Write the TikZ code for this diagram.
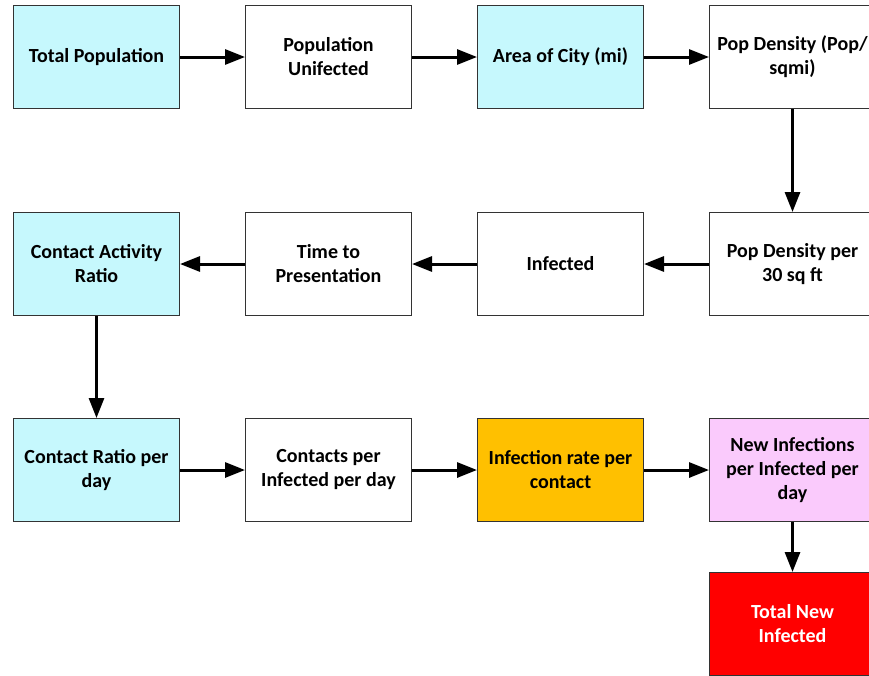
\documentclass[tikz,border=0pt]{standalone}
\usepackage{fontspec}
\setmainfont{Carlito}
\usetikzlibrary{arrows.meta}
\definecolor{cyanbox}{HTML}{C6F8FD}
\definecolor{orangebox}{HTML}{FFC000}
\definecolor{pinkbox}{HTML}{FACAFC}
\definecolor{redbox}{HTML}{FF0000}
\definecolor{edge}{HTML}{333333}
\tikzset{
  blk/.style={draw=edge, line width=1pt, fill=white, anchor=north west,
    minimum width=166pt, minimum height=103pt, inner sep=0pt,
    align=center, font=\fontsize{20}{24}\selectfont\bfseries},
  cyanblk/.style={blk, fill=cyanbox},
  flow/.style={line width=3pt, -{Triangle[length=20pt, width=15pt]}, shorten >=0pt}
}
\begin{document}
\begin{tikzpicture}[x=1pt, y=-1pt]
\useasboundingbox (0,0) rectangle (869,675);
\clip (0,0) rectangle (869,675);
% row 1
\node[cyanblk] (tp)  at (13,5)  {Total Population};
\node[blk]     (pu)  at (245,5) {Population\\Unifected};
\node[cyanblk] (ac)  at (477,5) {Area of City (mi)};
\node[blk]     (pd)  at (709,5) {Pop Density (Pop/\\sqmi)};
% row 2
\node[cyanblk] (car) at (13,212)  {Contact Activity\\Ratio};
\node[blk]     (ttp) at (245,212) {Time to\\Presentation};
\node[blk]     (inf) at (477,212) {Infected};
\node[blk]     (pd30) at (709,212) {Pop Density per\\30 sq ft};
% row 3
\node[cyanblk] (crd) at (13,418)  {Contact Ratio per\\day};
\node[blk]     (cpi) at (245,418) {Contacts per\\Infected per day};
\node[blk, fill=orangebox] (irc) at (477,418) {Infection rate per\\contact};
\node[blk, fill=pinkbox]   (nip) at (709,418) {New Infections\\per Infected per\\day};
% row 4
\node[blk, fill=redbox, text=white] (tni) at (709,572) {Total New\\Infected};
% connectors
\draw[flow] (tp.east) -- (pu.west);
\draw[flow] (pu.east) -- (ac.west);
\draw[flow] (ac.east) -- (pd.west);
\draw[flow] (pd.south) -- (pd30.north);
\draw[flow] (pd30.west) -- (inf.east);
\draw[flow] (inf.west) -- (ttp.east);
\draw[flow] (ttp.west) -- (car.east);
\draw[flow] (car.south) -- (crd.north);
\draw[flow] (crd.east) -- (cpi.west);
\draw[flow] (cpi.east) -- (irc.west);
\draw[flow] (irc.east) -- (nip.west);
\draw[flow] (nip.south) -- (tni.north);
\end{tikzpicture}
\end{document}
